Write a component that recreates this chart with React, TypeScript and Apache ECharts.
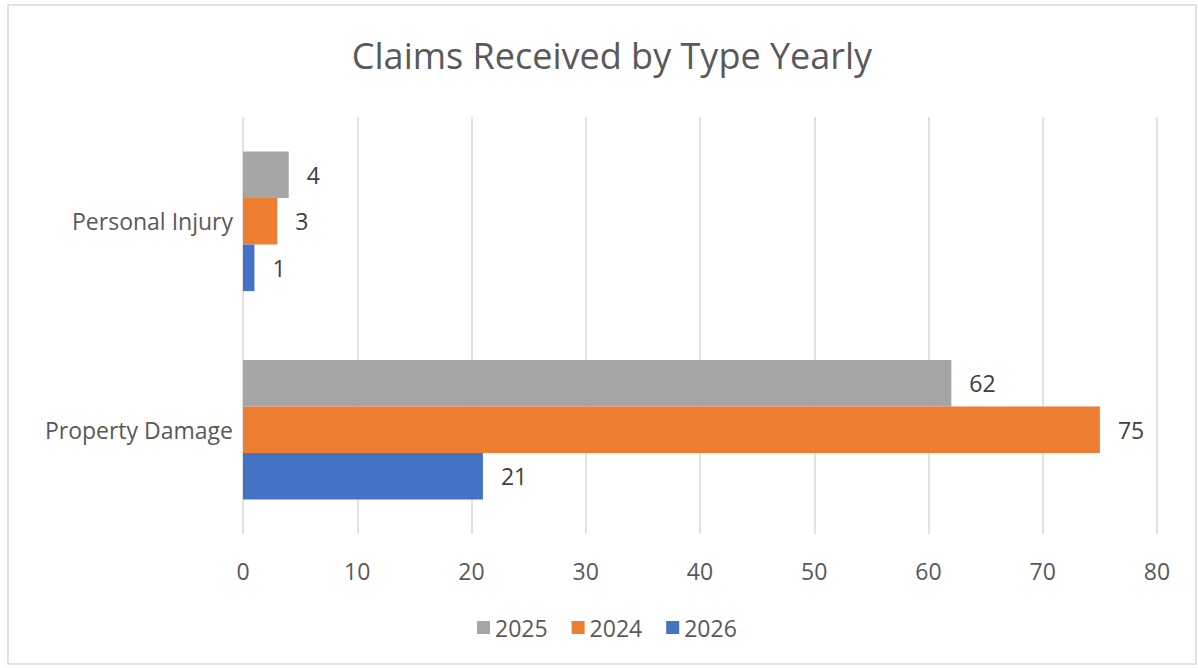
import React, { useEffect, useRef } from "react";
import * as echarts from "echarts";

const categories = ["Property Damage", "Personal Injury"];
const legendOrder = ["2025", "2024", "2026"];
const values2025 = [62, 4];
const values2024 = [75, 3];
const values2026 = [21, 1];
const xTicks = { min: 0, max: 80, interval: 10 };

const FONT = "'Open Sans', sans-serif";

export default function App() {
  const ref = useRef<HTMLDivElement>(null);
  useEffect(() => {
    if (!ref.current) return;
    const chart = echarts.init(ref.current, undefined, { renderer: "svg" });
    const label = {
      show: true,
      position: "right",
      distance: 18,
      color: "#404040",
      fontSize: 23,
      fontFamily: FONT,
    };
    chart.setOption({
      animation: false,
      textStyle: { fontFamily: FONT },
      graphic: [
        {
          type: "rect",
          shape: { x: 8, y: 5, width: 1188, height: 659 },
          style: { fill: "none", stroke: "#d9d9d9", lineWidth: 1.5 },
          silent: true,
        },
      ],
      title: {
        text: "Claims Received by Type Yearly",
        left: 607,
        textAlign: "center",
        top: 32,
        textStyle: { color: "#595959", fontSize: 36, fontWeight: "normal", fontFamily: FONT },
      },
      legend: {
        data: legendOrder,
        bottom: 24,
        left: 472,
        itemWidth: 13,
        itemHeight: 13,
        itemGap: 24,
        icon: "rect",
        textStyle: { color: "#595959", fontSize: 23, fontFamily: FONT },
      },
      grid: { left: 243, right: 41, top: 117, height: 417, containLabel: false },
      xAxis: {
        type: "value",
        min: xTicks.min,
        max: xTicks.max,
        interval: xTicks.interval,
        axisLine: { show: false },
        axisTick: { show: false },
        axisLabel: { color: "#595959", fontSize: 23, margin: 25, fontFamily: FONT },
        splitLine: { show: true, lineStyle: { color: "#d9d9d9", width: 1.5 } },
      },
      yAxis: {
        type: "category",
        data: categories,
        axisLine: { show: false },
        axisTick: { show: false },
        axisLabel: { color: "#595959", fontSize: 23, margin: 10, fontFamily: FONT },
      },
      series: [
        { name: "2025", type: "bar", data: values2025, itemStyle: { color: "#A5A5A5" }, barGap: "0%", barCategoryGap: "33%", label },
        { name: "2024", type: "bar", data: values2024, itemStyle: { color: "#ED7D31" }, barGap: "0%", barCategoryGap: "33%", label },
        { name: "2026", type: "bar", data: values2026, itemStyle: { color: "#4472C4" }, barGap: "0%", barCategoryGap: "33%", label },
      ],
    });
    return () => chart.dispose();
  }, []);
  return (
    <div
      ref={ref}
      style={{ position: "absolute", left: 0, top: 0, width: 1198, height: 668, background: "#fff" }}
    />
  );
}
